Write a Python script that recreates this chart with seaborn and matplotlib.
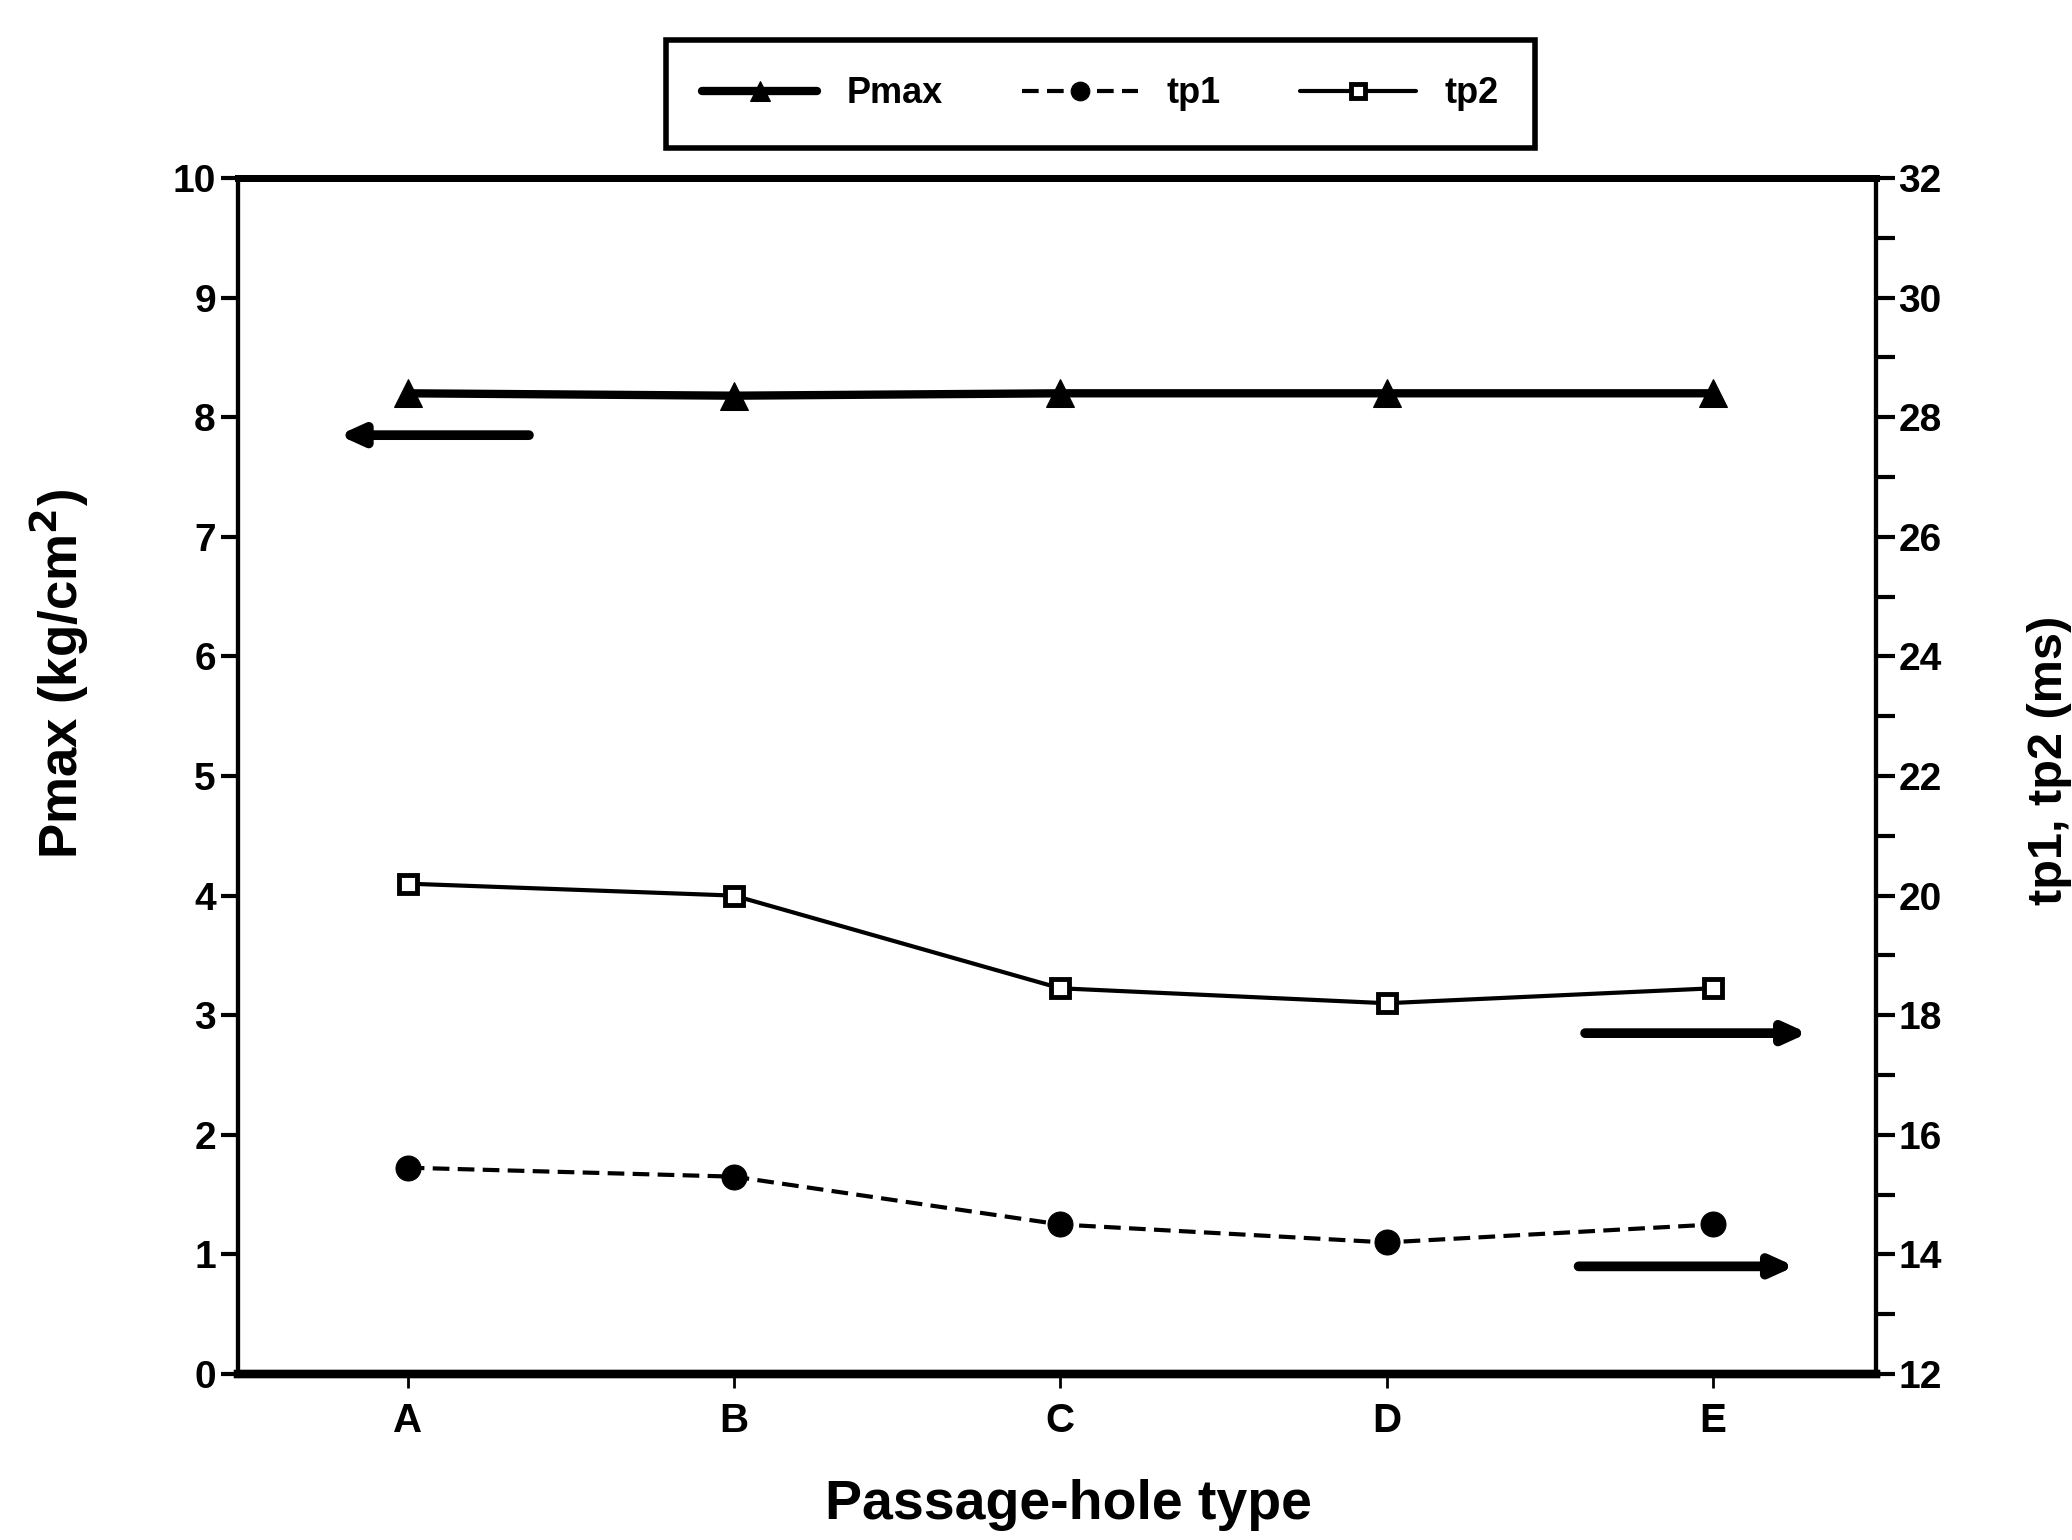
import numpy as np
import pandas as pd
import matplotlib
matplotlib.use('Agg')
import matplotlib.pyplot as plt
from matplotlib.ticker import MultipleLocator
import seaborn as sns

# data
hole_types = ['A', 'B', 'C', 'D', 'E']
pmax = [8.2, 8.18, 8.2, 8.2, 8.2]          # kg/cm^2, left axis
tp1 = [15.45, 15.3, 14.5, 14.2, 14.5]      # ms, right axis
tp2 = [20.2, 20.0, 18.45, 18.2, 18.45]     # ms, right axis

sns.set_theme(style='ticks')
plt.rcParams.update({
    'font.family': ['Liberation Sans', 'DejaVu Sans'],
    'font.weight': 'bold',
    'axes.labelweight': 'bold',
    'text.color': 'black',
    'axes.labelcolor': 'black',
    'axes.edgecolor': 'black',
    'xtick.color': 'black',
    'ytick.color': 'black',
    'legend.framealpha': 1.0,
})

df = pd.DataFrame({'type': hole_types, 'Pmax': pmax, 'tp1': tp1, 'tp2': tp2})

fig = plt.figure(figsize=(20.72, 15.40), dpi=100)
ax = fig.add_axes([0.1149, 0.1078, 0.7905, 0.7766])
ax2 = ax.twinx()

sns.lineplot(data=df, x='type', y='Pmax', ax=ax, color='black', lw=6,
             marker='^', markersize=20, markeredgecolor='black', label='Pmax', legend=False)
sns.lineplot(data=df, x='type', y='tp1', ax=ax2, color='black', lw=3, linestyle=(0, (4, 2)),
             marker='o', markersize=18, markeredgecolor='black', label='tp1', legend=False)
sns.lineplot(data=df, x='type', y='tp2', ax=ax2, color='black', lw=3, linestyle='-',
             marker='s', markersize=13, markerfacecolor='white', markeredgecolor='black',
             markeredgewidth=3.5, label='tp2', legend=False)

ax.set_xlim(-0.52, 4.5)
ax.set_ylim(0, 10)
ax2.set_ylim(12, 32)
ax.yaxis.set_major_locator(MultipleLocator(1))
ax2.yaxis.set_major_locator(MultipleLocator(2))
ax2.yaxis.set_minor_locator(MultipleLocator(1))

# axis-pointer arrows
arr = dict(arrowstyle='-|>,head_length=1.1,head_width=0.5', lw=7, color='black')
ax.annotate('', xy=(-0.22, 7.85), xytext=(0.38, 7.85), arrowprops=arr)
ax2.annotate('', xy=(4.3, 17.7), xytext=(3.6, 17.7), arrowprops=arr)
ax2.annotate('', xy=(4.26, 13.8), xytext=(3.58, 13.8), arrowprops=arr)

for a in (ax, ax2):
    for side in ['left', 'right']:
        a.spines[side].set_linewidth(3)
        a.spines[side].set_color('black')
    a.spines['top'].set_linewidth(5)
    a.spines['bottom'].set_linewidth(6)
    a.spines['top'].set_color('black')
    a.spines['bottom'].set_color('black')
    a.spines['right'].set_visible(True)
    a.spines['top'].set_visible(True)

ax.tick_params(axis='y', which='major', direction='out', length=12, width=3,
               labelsize=28, pad=4, colors='black')
ax.tick_params(axis='x', which='major', direction='out', length=10, width=2,
               labelsize=29, pad=10, colors='black')
ax2.tick_params(axis='y', which='major', direction='out', length=14, width=3,
                labelsize=28, pad=2, colors='black')
ax2.tick_params(axis='y', which='minor', direction='out', length=14, width=3, colors='black')
for lab in ax.get_xticklabels() + ax.get_yticklabels() + ax2.get_yticklabels():
    lab.set_fontweight('bold')

ax.set_xlabel('Passage-hole type', fontsize=40, fontweight='bold', color='black')
ax.xaxis.set_label_coords(0.507, -0.088)
ax.set_ylabel('Pmax (kg/cm$^\\mathbf{2}$)', fontsize=38, fontweight='bold', color='black')
ax.yaxis.set_label_coords(-0.09, 0.585)
ax2.set_ylabel('tp1, tp2 (ms)', fontsize=35, fontweight='bold', rotation=90, color='black')
ax2.yaxis.set_label_coords(1.092, 0.513)

handles = ax.get_lines()[:1] + ax2.get_lines()[:2]
leg = fig.legend(handles=handles, labels=['Pmax', 'tp1', 'tp2'], loc='center',
                 bbox_to_anchor=(0.531, 0.939), ncol=3, frameon=True, fancybox=False,
                 fontsize=26, handlelength=3.2, columnspacing=2.2, borderpad=1.0,
                 markerscale=0.75)
leg.get_frame().set_edgecolor('black')
leg.get_frame().set_linewidth(4)
leg.get_frame().set_alpha(1.0)
for t in leg.get_texts():
    t.set_fontweight('bold')
    t.set_color('black')

fig.savefig('out.png', dpi=100, facecolor='white')
